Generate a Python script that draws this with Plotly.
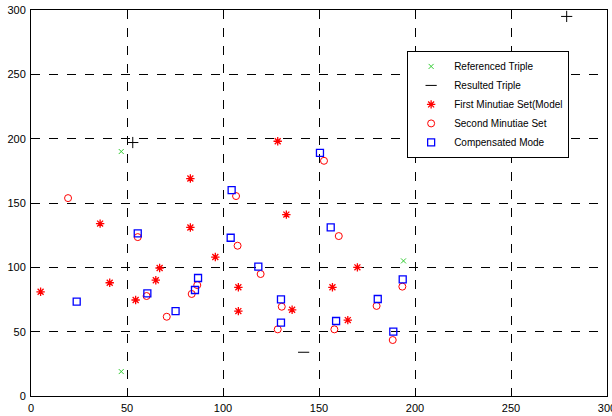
import plotly.graph_objects as go

ref_x = [47, 47, 194]
ref_y = [190, 19, 105]

res_x = [142, 53, 279]
res_y = [34, 197, 295]

first_x = [5, 36, 83, 83, 96, 67, 41, 65, 54.5, 128.5, 133, 170, 108, 108, 136, 157, 165]
first_y = [81, 134, 169, 131, 108, 99.5, 88, 90, 74.6, 198, 141, 100, 84.5, 66, 67, 84.5, 59]

second_x = [19.3, 55.6, 60.2, 70.7, 83.7, 86.6, 106.8, 152.6, 107.6, 160.3, 119.6, 130.6, 128.5, 158, 180, 193.4, 188.4]
second_y = [153.8, 123.5, 77.7, 61.6, 79.3, 86.2, 155.4, 182.8, 116.8, 124.3, 94.8, 69.4, 51.8, 51.8, 70, 85, 43.5]

comp_x = [55.6, 87, 23.8, 60.6, 75.3, 85.4, 104.5, 150.5, 156.1, 104, 118.4, 130.2, 130.2, 158.9, 180.6, 193.6, 188.7]
comp_y = [126.4, 91.7, 73.3, 79.8, 66, 82.4, 160, 189, 131, 123, 100.5, 75.1, 57, 58.3, 75.4, 90.7, 50]

ticks = [0, 50, 100, 150, 200, 250, 300]
labels = ["Referenced Triple", "Resulted Triple", "First Minutiae Set(Model", "Second Minutiae Set", "Compensated Mode"]

fig = go.Figure()
fig.add_trace(go.Scatter(x=ref_x, y=ref_y, mode="markers", name=labels[0],
                         marker=dict(symbol="x-thin-open", size=5, color="#33cc33", line=dict(width=1, color="#33cc33"))))
fig.add_trace(go.Scatter(x=res_x, y=res_y, mode="markers", name=labels[1],
                         marker=dict(symbol=["line-ew-open", "cross-thin-open", "cross-thin-open"], size=8,
                                     color="black", line=dict(width=1, color="black"))))
fig.add_trace(go.Scatter(x=first_x, y=first_y, mode="markers", name=labels[2],
                         marker=dict(symbol="asterisk-open", size=7, color="red", line=dict(width=1.3, color="red"))))
fig.add_trace(go.Scatter(x=second_x, y=second_y, mode="markers", name=labels[3],
                         marker=dict(symbol="circle-open", size=7, color="red", line=dict(width=1, color="red"))))
fig.add_trace(go.Scatter(x=comp_x, y=comp_y, mode="markers", name=labels[4],
                         marker=dict(symbol="square-open", size=7, color="blue", line=dict(width=1.3, color="blue"))))

axis_common = dict(range=[0, 300], tickvals=ticks, ticktext=[str(t) for t in ticks],
                   showgrid=True, gridcolor="black", griddash="dash", gridwidth=1,
                   showline=True, linecolor="black", linewidth=1, mirror=True,
                   ticks="inside", ticklen=4, tickcolor="black", zeroline=False,
                   automargin=False, ticklabelstandoff=2, ticklabeloverflow="allow",
                   tickfont=dict(family="Liberation Sans, Arial", size=11, color="black"))

fig.update_xaxes(**axis_common)
fig.update_yaxes(**axis_common)

fig.update_layout(
    width=612, height=416,
    margin=dict(l=31, r=5, t=10, b=20, autoexpand=False),
    paper_bgcolor="white", plot_bgcolor="white",
    showlegend=True,
    legend=dict(x=0.653, y=0.894, xanchor="left", yanchor="top",
                bgcolor="white", bordercolor="black", borderwidth=1,
                font=dict(family="Liberation Sans, Arial", size=10, color="black"),
                tracegroupgap=0, itemwidth=36),
    font=dict(family="Liberation Sans, Arial", size=11, color="black"),
)

fig.write_html("out.html", config={"displayModeBar": False},
               post_script="document.body.style.margin='0';document.body.style.overflow='hidden';")
